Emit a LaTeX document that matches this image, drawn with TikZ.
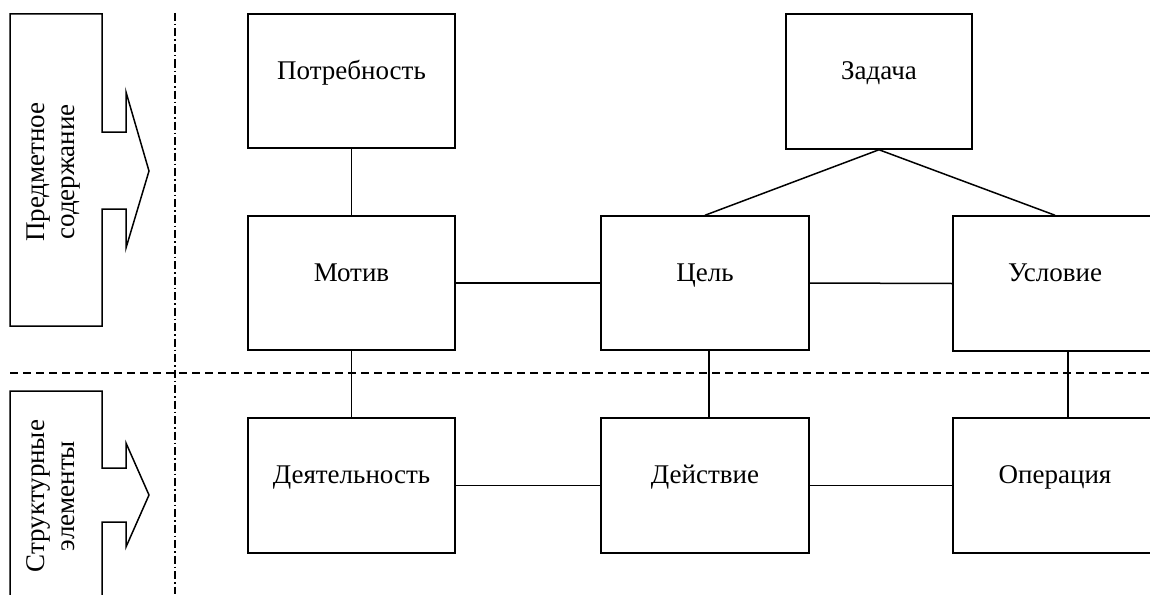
\documentclass[tikz,border=0pt]{standalone}
\usepackage{fontspec}
\setmainfont{Liberation Serif}
\begin{document}
\begin{tikzpicture}[x=1pt,y=-1pt,
  every node/.style={font=\fontsize{27}{31}\selectfont},
  box/.style={draw, line width=1.5pt, inner sep=0pt, text height=18pt, text depth=22pt},
  conn/.style={line width=1.5pt},
  sidetext/.style={rotate=90, anchor=base, inner sep=0pt},
  sideshape/.style={draw, line width=1.5pt, line join=miter}
]
\clip (0,0) rectangle (1150,594);
\fill[white] (0,0) rectangle (1150,594);

% side arrows
\draw[sideshape] (10,14) -- (102,14) -- (102,132) -- (126,132) -- (126,92) -- (149,171)
  -- (126,248) -- (126,209) -- (102,209) -- (102,326) -- (10,326) -- cycle;
\draw[sideshape] (10,600) -- (10,391) -- (102,391) -- (102,468) -- (126,468) -- (126,443)
  -- (149,495) -- (126,547) -- (126,522) -- (102,522) -- (102,600);

\node[sidetext] (s1a) at (44,172) {Предметное};
\node[sidetext] (s1b) at (74,172) {содержание};
\node[sidetext] (s2a) at (44,496) {Структурные};
\node[sidetext] (s2b) at (74,496) {элементы};

% separators
\draw[line width=1.3pt, dash pattern=on 8pt off 5pt] (10,373) -- (1150,373);
\draw[line width=1.3pt, dash pattern=on 8pt off 3pt on 1.5pt off 3pt] (175,13) -- (175,594);

% boxes
\node[box, minimum width=207pt, minimum height=134pt] (potr) at (351.5,81) {Потребность};
\node[box, minimum width=186pt, minimum height=135pt] (zad) at (879,81.5) {Задача};
\node[box, minimum width=207pt, minimum height=134pt] (motiv) at (351.5,283) {Мотив};
\node[box, minimum width=208pt, minimum height=134pt] (cel) at (705,283) {Цель};
\node[box, minimum width=204pt, minimum height=135pt] (usl) at (1055,283.5) {Условие};
\node[box, minimum width=207pt, minimum height=135pt] (deyat) at (351.5,485.5) {Деятельность};
\node[box, minimum width=208pt, minimum height=135pt] (deyst) at (705,485.5) {Действие};
\node[box, minimum width=204pt, minimum height=135pt] (oper) at (1055,485.5) {Операция};

% connectors
\draw[conn] (potr.south) -- (motiv.north);
\draw[conn] (zad.south) -- (cel.north);
\draw[conn] (zad.south) -- (usl.north);
\draw[conn] (motiv.east) -- (cel.west);
\draw[conn] (cel.east) -- (usl.west);
\draw[conn] (motiv.south) -- (deyat.north);
\draw[conn] ([xshift=4pt]cel.south) -- ([xshift=4pt]deyst.north);
\draw[conn] ([xshift=13pt]usl.south) -- ([xshift=13pt]oper.north);
\draw[conn] (deyat.east) -- (deyst.west);
\draw[conn] (deyst.east) -- (oper.west);
\end{tikzpicture}
\end{document}
